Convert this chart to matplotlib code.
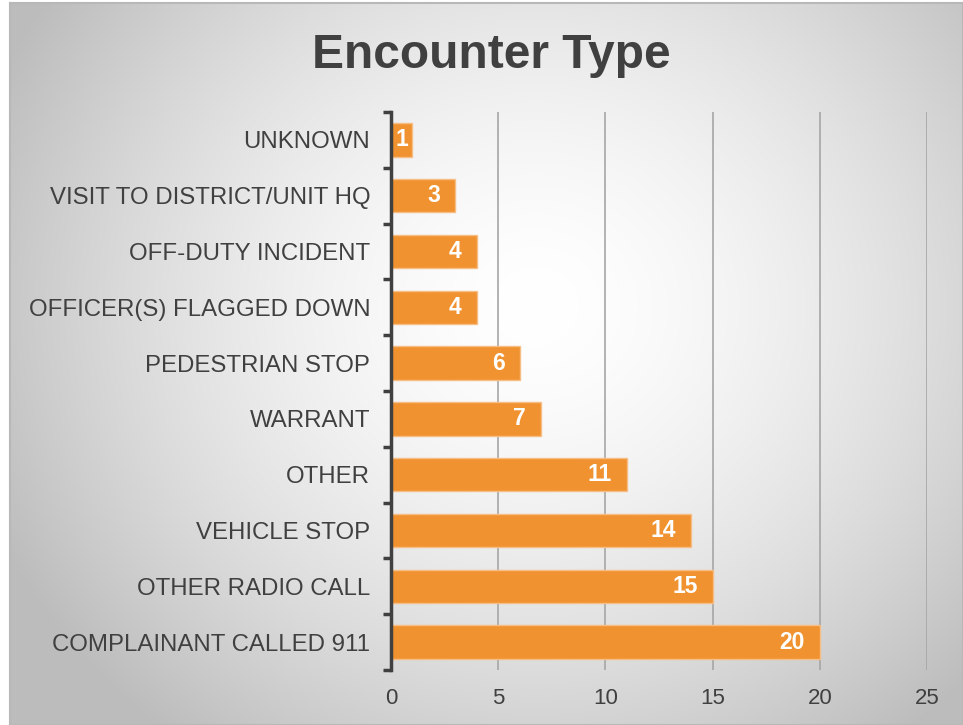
import numpy as np
import matplotlib
matplotlib.use("Agg")
import matplotlib.pyplot as plt
import matplotlib.transforms as mtransforms

categories = ["UNKNOWN", "VISIT TO DISTRICT/UNIT HQ", "OFF-DUTY INCIDENT",
              "OFFICER(S) FLAGGED DOWN", "PEDESTRIAN STOP", "WARRANT", "OTHER",
              "VEHICLE STOP", "OTHER RADIO CALL", "COMPLAINANT CALLED 911"]
values = [1, 3, 4, 4, 6, 7, 11, 14, 15, 20]
xticks = [0, 5, 10, 15, 20, 25]

plt.rcParams['font.family'] = ['Liberation Sans', 'DejaVu Sans']

fig = plt.figure(figsize=(9.63, 7.25), dpi=100)
fig.patch.set_facecolor('white')

# background radial gradient
bg = fig.add_axes([10/963, 0, 953/963, 1 - 3/725])
ny, nx = 400, 540
yy, xx = np.mgrid[0:ny, 0:nx]
cx, cy = nx * 0.55, ny * 0.42
r = np.sqrt(((xx - cx) / (nx * 0.62)) ** 2 + ((yy - cy) / (ny * 0.75)) ** 2)
r = np.clip(r, 0, 1)
val = 1.0 - 0.26 * r ** 1.6
img = np.dstack([val, val, val])
bg.imshow(img, aspect='auto', extent=[0, 1, 0, 1], origin='upper', interpolation='bilinear')
bg.set_xlim(0, 1)
bg.set_ylim(0, 1)
bg.set_xticks([])
bg.set_yticks([])
for s in bg.spines.values():
    s.set_color('#b8b8b8')
    s.set_linewidth(1.5)

ax = fig.add_axes([391/963, 1 - 670/725, (927 - 391)/963, (670 - 112)/725])
ax.patch.set_alpha(0)

y = np.arange(len(categories))
bars = ax.barh(y, values, height=0.6, color='#F0922F', edgecolor='#F6BE85', linewidth=1.0, zorder=3)
ax.set_ylim(len(categories) - 0.5, -0.5)
ax.set_xlim(0, 25)
ax.set_xticks(xticks)
ax.set_xticklabels([str(t) for t in xticks], fontsize=16, color='#404040')
ax.set_yticks(y)
ax.set_yticklabels(categories, fontsize=17.3, color='#404040')
ax.set_yticks(np.arange(-0.5, len(categories) + 0.5, 1), minor=True)
ax.tick_params(axis='y', which='major', length=0, pad=15)
ax.tick_params(axis='y', which='minor', length=6, width=2.5, color='#404040', direction='out')
ax.tick_params(axis='x', length=0, pad=13)
ax.grid(axis='x', color='#a6a6a6', linewidth=1.2, zorder=0)
for s in ['top', 'right', 'bottom']:
    ax.spines[s].set_visible(False)
ax.spines['left'].set_color('#404040')
ax.spines['left'].set_linewidth(2.5)
ax.spines['left'].set_zorder(4)

off = mtransforms.offset_copy(ax.transData, fig=fig, x=-15, y=0, units='dots')
for b, v in zip(bars, values):
    yc = b.get_y() + b.get_height() / 2
    if v <= 1:
        ax.text(v / 2, yc, str(v), ha='center', va='center',
                color='white', fontsize=16.5, fontweight='bold', zorder=5)
    else:
        ax.text(v, yc, str(v), ha='right', va='center', transform=off,
                color='white', fontsize=16.5, fontweight='bold', zorder=5)

fig.text(491/963, 1 - 55/725, "Encounter Type", ha='center', va='center',
         fontsize=34.5, fontweight='bold', color='#404040')

fig.savefig("out.png", dpi=100)
